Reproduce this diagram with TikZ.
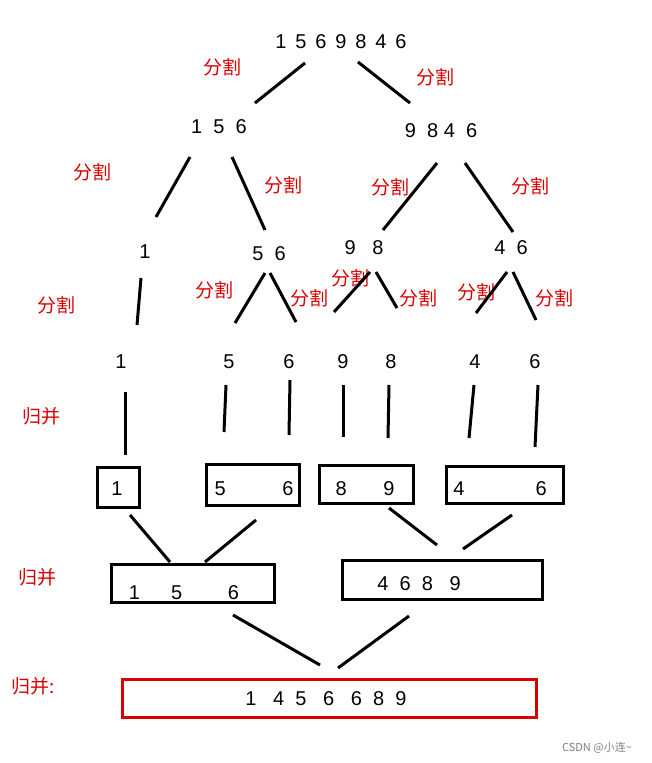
\documentclass[tikz,border=0pt]{standalone}
\usepackage{fontspec}
\setmainfont{Noto Sans CJK SC}
\newfontfamily\numfont{Liberation Sans}
\begin{document}
\begin{tikzpicture}[x=1pt,y=-1pt,
  ln/.style={line width=3pt},
  bx/.style={line width=3pt,draw},
  num/.style={font=\numfont\fontsize{20}{24}\selectfont,inner sep=0pt},
  lbl/.style={font=\fontsize{19}{22}\selectfont,text=red!85!black,inner sep=0pt}]
\useasboundingbox[fill=white] (0,0) rectangle (652,763);
% numbers
\node[num] (r) at (341,42) {1\,\ 5\,\ 6\,\ 9\,\ 8\,\ 4\,\ 6};
\node[num] (a) at (219,127) {1\ \ 5\ \ 6};
\node[num] (b) at (441,131) {9\ \ 8\ 4\ \ 6};
\node[num] (c1) at (145,252) {1};
\node[num] (c2) at (269,254) {5\ \ 6};
\node[num] (c3) at (364,248) {9\ \ \ 8};
\node[num] (c4) at (511,248) {4\ \ 6};
\foreach \n/\x/\t in {d1/121/1,d2/229/5,d3/289/6,d4/343/9,d5/391/8,d6/475/4,d7/535/6}
  \node[num] (\n) at (\x,362) {\t};
% labels
\foreach \x/\y [count=\i] in {222/67,435/77,92/172,283/185,390/187,530/186,56/305,214/290,309/298,350/278,418/298,476/292,554/298}
  \node[lbl] (s\i) at (\x,\y) {分割};
\node[lbl] (m1) at (42,416) {归并};
\node[lbl] (m2) at (38,577) {归并};
\node[lbl] (m3) at (33,686) {归并:};
% lines
\foreach \a/\b/\c/\d in {305/63/255/103, 358/62/410/103, 190/157/156/217, 232/157/265/230,
  437/163/383/230, 465/163/513/232, 141/278/137/325, 265/273/235/323, 270/273/296/322,
  370/272/334/312, 376/272/397/308, 507/272/476/313, 513/272/536/320,
  125/392/125/455, 226/385/224/432, 290/380/289/435, 343/385/343/437, 389/385/388/438,
  474/385/469/438, 538/385/535/447,
  130/515/170/562, 256/520/205/562, 389/508/437/545, 512/515/463/549,
  233/615/320/665, 409/616/338/668}
  \draw[ln] (\a,\b) -- (\c,\d);
% boxes
\draw[bx] (97,467) rectangle (139,507);
\node[num] (e1) at (117,489) {1};
\draw[bx] (206,464) rectangle (299,505);
\node[num] (e2) at (254,489) {5\qquad\ \ \ 6};
\draw[bx] (319,465) rectangle (413,503);
\node[num] (e3) at (365,489) {8\quad\ \ \ 9};
\draw[bx] (446,466) rectangle (563,503);
\node[num] (e4) at (500,489) {4\qquad\quad\ \ 6};
\draw[bx] (111,564) rectangle (274,602);
\node[num] (f1) at (184,593) {1\quad\ \ 5\qquad\ 6};
\draw[bx] (342,560) rectangle (542,599);
\node[num] (f2) at (419,584) {4\ \ 6\ \ 8\ \ \ 9};
\draw[line width=3pt,draw=red!85!black] (122,679) rectangle (536,717);
\node[num] (g) at (326,699) {1\ \ \ 4\ \ 5\ \ \ 6\ \ \ 6\ \ 8\ \ 9};
\node[font=\fontsize{11}{13}\selectfont,text=gray,inner sep=0pt] (w) at (597,748) {CSDN @小连\textasciitilde};
\end{tikzpicture}
\end{document}
